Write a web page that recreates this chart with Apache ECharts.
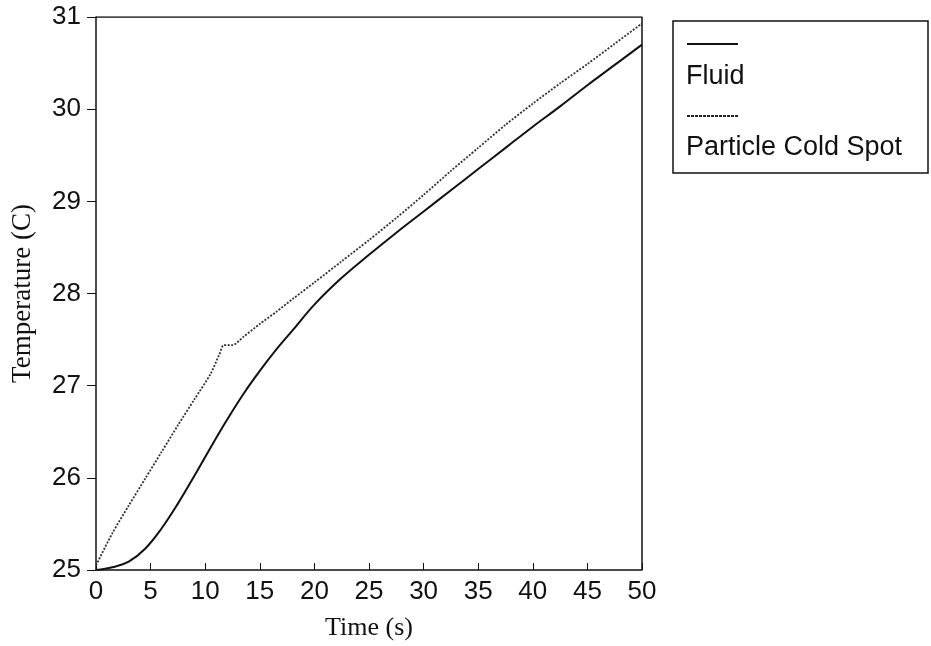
<!DOCTYPE html>
<html>
<head>
<meta charset="utf-8">
<script src="https://cdn.jsdelivr.net/npm/echarts@6/dist/echarts.min.js"></script>
<style>
  html, body { margin: 0; padding: 0; background: #fff; }
  #chart { width: 931px; height: 646px; }
</style>
</head>
<body>
<div id="chart"></div>
<script>
// values
const fluidTime = [0, 1.5, 3, 4.5, 6, 7.5, 9, 10.5, 12, 13.5, 15, 16.5, 18, 20, 22.5, 25, 27.5, 30, 32.5, 35, 37.5, 40, 42.5, 45, 47.5, 50]
const fluidTemp = [25.0, 25.03, 25.09, 25.23, 25.45, 25.72, 26.02, 26.33, 26.63, 26.91, 27.16, 27.39, 27.60, 27.88, 28.17, 28.42, 28.66, 28.89, 29.12, 29.35, 29.58, 29.81, 30.03, 30.26, 30.48, 30.70]

const spotTime = [0, 1.5, 3, 4.5, 6, 7.5, 9, 10.5, 11.3, 11.7, 12.5, 13.5, 15, 16.5, 18, 20, 22.5, 25, 27.5, 30, 32.5, 35, 37.5, 40, 42.5, 45, 47.5, 50]
const spotTemp = [25.05, 25.40, 25.70, 25.99, 26.28, 26.57, 26.85, 27.13, 27.34, 27.44, 27.44, 27.53, 27.67, 27.80, 27.94, 28.12, 28.35, 28.58, 28.82, 29.07, 29.33, 29.58, 29.83, 30.06, 30.28, 30.49, 30.71, 30.93]

const seriesNames = ['Fluid', 'Particle Cold Spot']

const pairs = (xs, ys) => xs.map((x, i) => [x, ys[i]])

const chart = echarts.init(document.getElementById('chart'))

const sans = 'Liberation Sans, Arial, sans-serif'
const serif = 'Liberation Serif, Times New Roman, serif'

chart.setOption({
  backgroundColor: '#fff',
  animation: false,
  grid: { left: 96, top: 17, right: 289, bottom: 76, containLabel: false },
  xAxis: {
    type: 'value',
    min: 0,
    max: 50,
    interval: 5,
    name: 'Time (s)',
    nameLocation: 'middle',
    nameGap: 45,
    nameTextStyle: { fontFamily: serif, fontSize: 26, color: '#111' },
    axisLine: { show: true, lineStyle: { color: '#111', width: 1.5 } },
    axisTick: { show: true, inside: true, length: 7, lineStyle: { color: '#111', width: 1 } },
    axisLabel: { margin: 9, fontFamily: sans, fontSize: 26, color: '#111' },
    splitLine: { show: false }
  },
  yAxis: {
    type: 'value',
    min: 25,
    max: 31,
    interval: 1,
    name: 'Temperature (C)',
    nameLocation: 'middle',
    nameGap: 60,
    nameRotate: 90,
    nameTextStyle: { fontFamily: serif, fontSize: 27, color: '#111' },
    axisLine: { show: true, lineStyle: { color: '#111', width: 1.5 } },
    axisTick: { show: true, inside: false, length: 9, lineStyle: { color: '#111', width: 1 } },
    axisLabel: { margin: 15, fontFamily: sans, fontSize: 26, color: '#111' },
    splitLine: { show: false }
  },
  series: [
    {
      name: seriesNames[0],
      type: 'line',
      data: pairs(fluidTime, fluidTemp),
      smooth: 0.4,
      showSymbol: false,
      lineStyle: { color: '#111', width: 2, type: 'solid' }
    },
    {
      name: seriesNames[1],
      type: 'line',
      data: pairs(spotTime, spotTemp),
      smooth: 0.25,
      showSymbol: false,
      lineStyle: { color: '#333', width: 1.8, type: [2, 1.5] }
    },
    {
      // box top and right edges
      type: 'line',
      data: [[0, 31], [50, 31], [50, 25]],
      showSymbol: false,
      silent: true,
      lineStyle: { color: '#111', width: 1.5 }
    }
  ],
  graphic: [
    {
      type: 'rect',
      shape: { x: 673, y: 21, width: 255, height: 152 },
      style: { fill: '#fff', stroke: '#111', lineWidth: 1.5 }
    },
    {
      type: 'line',
      shape: { x1: 687, y1: 44, x2: 738, y2: 44 },
      style: { stroke: '#111', lineWidth: 1.8 }
    },
    {
      type: 'text',
      x: 686, y: 77,
      style: { text: seriesNames[0], font: '27px ' + sans, fill: '#111', verticalAlign: 'middle' }
    },
    {
      type: 'line',
      shape: { x1: 687, y1: 116, x2: 738, y2: 116 },
      style: { stroke: '#222', lineWidth: 1.8, lineDash: [3, 1] }
    },
    {
      type: 'text',
      x: 686, y: 148,
      style: { text: seriesNames[1], font: '27px ' + sans, fill: '#111', verticalAlign: 'middle' }
    }
  ]
})
</script>
</body>
</html>
